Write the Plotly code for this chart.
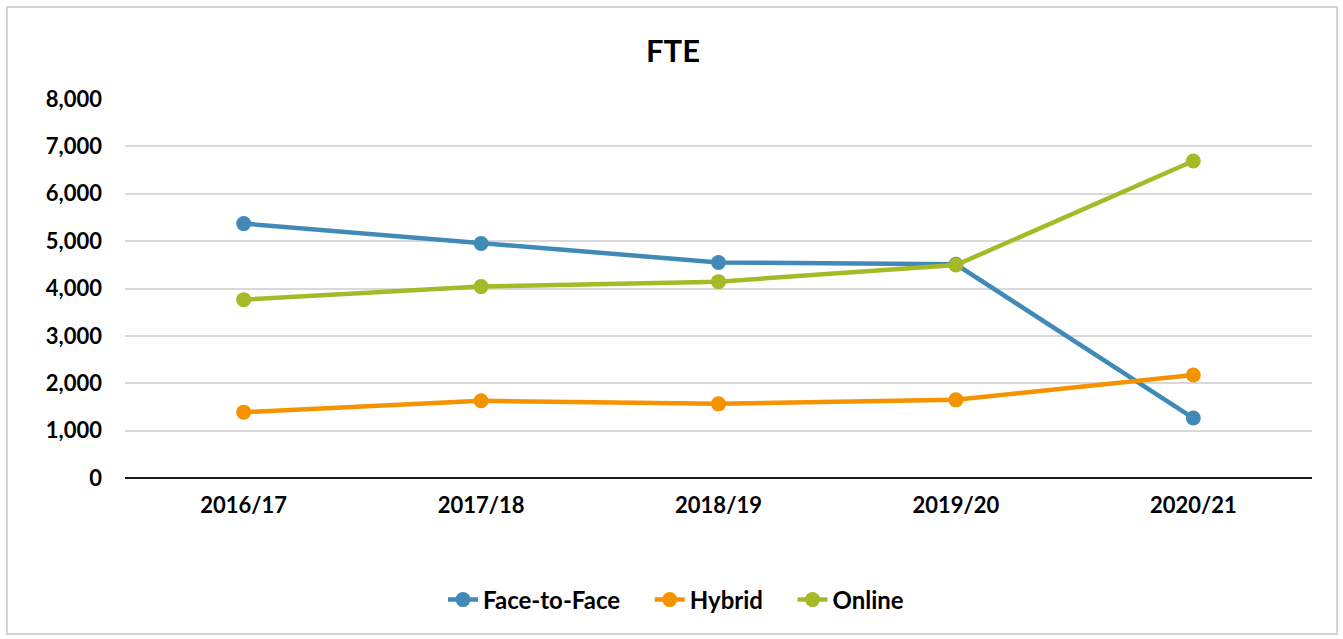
import plotly.graph_objects as go

years = ["2016/17", "2017/18", "2018/19", "2019/20", "2020/21"]
face_to_face = [5370, 4950, 4550, 4510, 1265]
hybrid = [1390, 1630, 1565, 1650, 2175]
online = [3765, 4040, 4145, 4495, 6690]

colors = {"Face-to-Face": "#418ab7", "Hybrid": "#f59200", "Online": "#a6ba28"}
font_family = "Lato, 'Open Sans', sans-serif"
pad = "\u00a0" * 4

fig = go.Figure()
for name, vals, tail in [("Face-to-Face", face_to_face, pad), ("Hybrid", hybrid, pad), ("Online", online, "")]:
    fig.add_trace(go.Scatter(
        x=years, y=vals, name="<b>" + name + "</b>" + tail, mode="lines+markers",
        line=dict(color=colors[name], width=4.5),
        marker=dict(color=colors[name], size=15),
    ))

# chart border (outer frame)
W, H = 1343, 639
ml, mr, mt, mb = 125, 31, 99, 161
pw, ph = W - ml - mr, H - mt - mb
fig.add_shape(
    type="rect", xref="paper", yref="paper", layer="below",
    x0=(7 - ml) / pw, x1=(1337 - ml) / pw,
    y0=(H - mb - 634) / ph, y1=(H - mb - 7) / ph,
    line=dict(color="#d4d4d4", width=2), fillcolor="rgba(0,0,0,0)",
)

fig.update_layout(
    width=W, height=H,
    margin=dict(l=ml, r=mr, t=mt, b=mb),
    paper_bgcolor="white", plot_bgcolor="white",
    font=dict(family=font_family, color="#000000", size=22),
    title=dict(text="<b>FTE</b>", x=673 / W, xref="container", xanchor="center",
               y=1 - 51 / H, yanchor="middle", font=dict(size=31)),
    showlegend=True,
    legend=dict(orientation="h", x=(676 - ml) / pw, xanchor="center",
                y=-(600 - (H - mb)) / ph, yanchor="middle",
                font=dict(size=24), traceorder="normal"),
    xaxis=dict(type="category", range=[-0.5, 4.5], showgrid=False,
               showline=False, ticks="", tickfont=dict(size=22),
               ticklabelstandoff=12, tickprefix="<b>", ticksuffix="</b>"),
    yaxis=dict(range=[0, 8000], dtick=1000, tickformat=",d", showgrid=True,
               gridcolor="#d9d9d9", gridwidth=2, zeroline=True,
               zerolinecolor="#1a1a1a", zerolinewidth=2, showline=False,
               ticks="", tickfont=dict(size=22), ticklabelstandoff=22,
               tickprefix="<b>", ticksuffix="</b>"),
)

fig.write_html("out.html", config={"displayModeBar": False},
               post_script="document.body.style.margin='0';")
